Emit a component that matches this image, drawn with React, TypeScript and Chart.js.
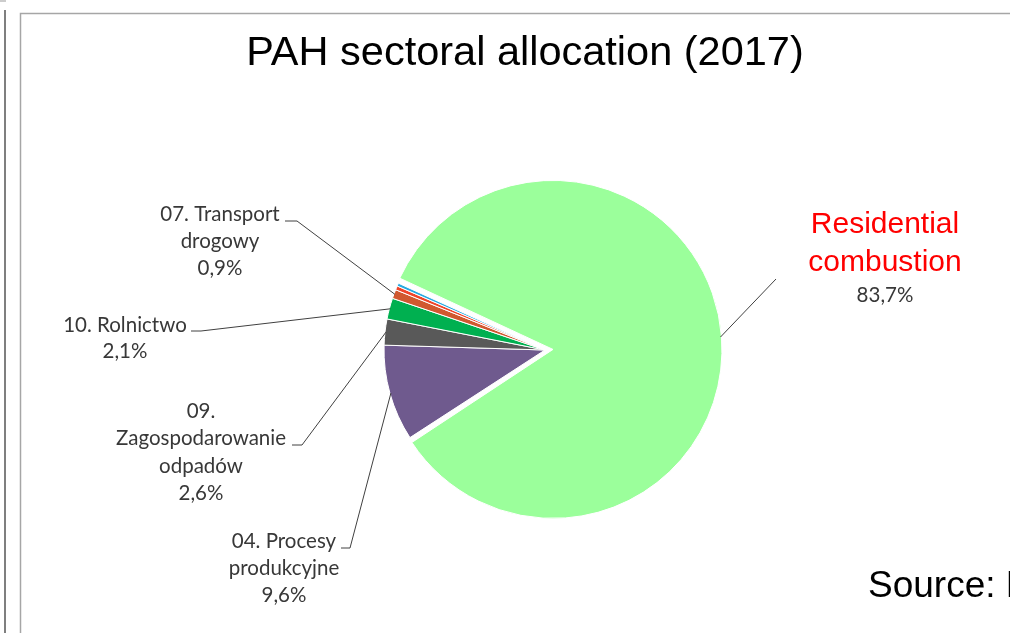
import React, { useEffect, useRef } from "react";
import { Chart, registerables } from "chart.js";

Chart.register(...registerables);

// ---- data ----
const categories = [
  "Residential combustion",
  "04. Procesy produkcyjne",
  "09. Zagospodarowanie odpadów",
  "10. Rolnictwo",
  "07. Transport drogowy",
  "Inne 1",
  "Inne 2",
];
const shares = [83.7, 9.6, 2.6, 2.1, 0.9, 0.4, 0.3];
const valueLabels = ["83,7%", "9,6%", "2,6%", "2,1%", "0,9%", "", ""];
const nameLines = [
  ["Residential", "combustion"],
  ["04. Procesy", "produkcyjne"],
  ["09.", "Zagospodarowanie", "odpadów"],
  ["10. Rolnictwo"],
  ["07. Transport", "drogowy"],
  [],
  [],
];
const titleText = "PAH sectoral allocation (2017)";
const sourceText = "Source: KOBiZE";

// ---- styles ----
const sliceColors = ["#9BFF9B", "#6F5A8E", "#595959", "#00B050", "#D0582F", "#F0442A", "#27A9E1"];
// Chart.js v4 translates an offset arc by offset/4 (and grows its radius by the same for big arcs)
const sliceOffsets = [32, 0, 0, 0, 0, 0, 0];

type LabelSpec = {
  idx: number;
  cx: number;
  base: number;
  lh: number;
  nameFont: string;
  nameColor: string;
  valueBase?: number;
  tick?: [number, number, number];
  start?: [number, number];
};

const LABEL_FONT = '20.5px Lato';
const LABEL_COLOR = "#383838";
const labelSpecs: LabelSpec[] = [
  { idx: 0, cx: 885, base: 233, lh: 38, nameFont: '30px "Liberation Sans", Arial', nameColor: "#FF0000", valueBase: 302, start: [776, 279] },
  { idx: 1, cx: 284, base: 548, lh: 27, nameFont: LABEL_FONT, nameColor: LABEL_COLOR, tick: [341, 350, 548] },
  { idx: 2, cx: 201, base: 418, lh: 27.3, nameFont: LABEL_FONT, nameColor: LABEL_COLOR, tick: [292, 302, 445] },
  { idx: 3, cx: 125, base: 332, lh: 26, nameFont: LABEL_FONT, nameColor: LABEL_COLOR, tick: [191, 201, 331] },
  { idx: 4, cx: 220, base: 221, lh: 27, nameFont: LABEL_FONT, nameColor: LABEL_COLOR, tick: [285, 297, 221] },
];

const decorPlugin = {
  id: "decor",
  afterDraw(chart: any) {
    const ctx: CanvasRenderingContext2D = chart.ctx;
    ctx.save();

    // frames
    ctx.strokeStyle = "#555555";
    ctx.lineWidth = 1.5;
    ctx.beginPath();
    ctx.moveTo(5, 10);
    ctx.lineTo(5, 633);
    ctx.stroke();
    ctx.strokeStyle = "#999999";
    ctx.lineWidth = 1;
    ctx.beginPath();
    ctx.moveTo(0, 1);
    ctx.lineTo(6, 1);
    ctx.stroke();
    ctx.strokeStyle = "#A6A6A6";
    ctx.lineWidth = 1.5;
    ctx.beginPath();
    ctx.moveTo(20.5, 633);
    ctx.lineTo(20.5, 13.5);
    ctx.lineTo(1010, 13.5);
    ctx.stroke();

    // title
    ctx.fillStyle = "#000000";
    ctx.font = '41.5px "Liberation Sans", Arial';
    ctx.textAlign = "center";
    ctx.textBaseline = "alphabetic";
    ctx.fillText(titleText, 525, 65);

    // source
    ctx.textAlign = "left";
    ctx.font = '37px "Liberation Sans", Arial';
    ctx.fillText(sourceText, 868, 597);

    // labels + leader lines
    const meta = chart.getDatasetMeta(0);
    for (const spec of labelSpecs) {
      const arc = meta.data[spec.idx];
      const p = arc.getProps(["x", "y", "startAngle", "endAngle", "outerRadius"], true);
      const mid = (p.startAngle + p.endAngle) / 2;
      const span = p.endAngle - p.startAngle;
      const off = sliceOffsets[spec.idx] / 4;
      const grow = off * (1 - Math.sin(Math.min(Math.PI, span)));
      const cx = p.x + Math.cos(mid) * off;
      const cy = p.y + Math.sin(mid) * off;
      const r = p.outerRadius + grow - 1;
      const ex = cx + Math.cos(mid) * r;
      const ey = cy + Math.sin(mid) * r;

      ctx.strokeStyle = "#404040";
      ctx.lineWidth = 1;
      ctx.beginPath();
      if (spec.tick) {
        ctx.moveTo(spec.tick[0], spec.tick[2]);
        ctx.lineTo(spec.tick[1], spec.tick[2]);
      } else if (spec.start) {
        ctx.moveTo(spec.start[0], spec.start[1]);
      }
      ctx.lineTo(ex, ey);
      ctx.stroke();

      ctx.textAlign = "center";
      const lines = nameLines[spec.idx];
      ctx.font = spec.nameFont;
      ctx.fillStyle = spec.nameColor;
      lines.forEach((t, i) => ctx.fillText(t, spec.cx, spec.base + i * spec.lh));
      ctx.font = LABEL_FONT;
      ctx.fillStyle = LABEL_COLOR;
      const vb = spec.valueBase ?? spec.base + lines.length * spec.lh;
      ctx.fillText(valueLabels[spec.idx], spec.cx, vb);
    }
    ctx.restore();
  },
};

export default function App() {
  const ref = useRef<HTMLCanvasElement | null>(null);
  useEffect(() => {
    if (!ref.current) return;
    const chart = new Chart(ref.current, {
      type: "pie",
      data: {
        labels: categories,
        datasets: [
          {
            data: shares,
            backgroundColor: sliceColors,
            borderColor: "#FFFFFF",
            borderWidth: 1,
            offset: sliceOffsets,
          },
        ],
      },
      options: {
        responsive: false,
        animation: false,
        rotation: 294.5,
        radius: 161,
        layout: { padding: { left: 80, right: 0, top: 67, bottom: 0 } },
        plugins: {
          legend: { display: false },
          tooltip: { enabled: false },
          title: { display: false },
        },
      },
      plugins: [decorPlugin],
    });
    return () => chart.destroy();
  }, []);
  return (
    <div style={{ position: "absolute", left: 0, top: 0, width: 1010, height: 633, background: "#fff" }}>
      <canvas ref={ref} width={1010} height={633} style={{ width: 1010, height: 633, display: "block" }} />
    </div>
  );
}
